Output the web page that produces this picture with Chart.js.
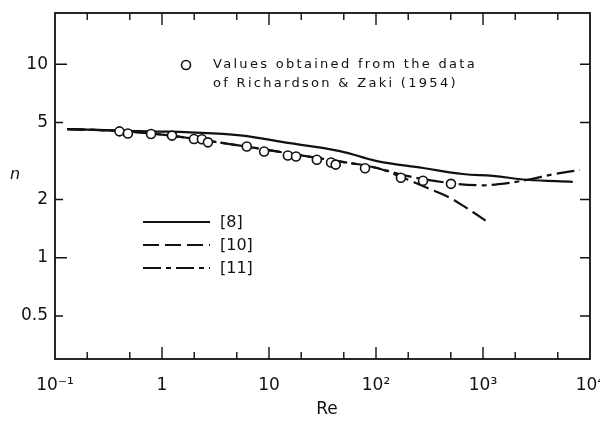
<!DOCTYPE html>
<html>
<head>
<meta charset="utf-8">
<script src="https://cdn.jsdelivr.net/npm/chart.js@4/dist/chart.umd.min.js"></script>
<style>
  html, body { margin: 0; padding: 0; background: #fff; }
  #wrap { width: 600px; height: 422px; }
</style>
</head>
<body>
<div id="wrap"><canvas id="chart"></canvas></div>
<script>
// values
const reCircles = [0.40, 0.48, 0.79, 1.24, 1.99, 2.36, 2.69, 6.2, 9.0, 15, 17.9, 28, 38, 42, 79, 171, 275, 502];
const nCircles = [4.50, 4.39, 4.36, 4.28, 4.11, 4.10, 3.95, 3.76, 3.54, 3.38, 3.34, 3.21, 3.11, 3.03, 2.90, 2.59, 2.50, 2.41];

// curve [8]
const re8 = [0.13, 0.3, 0.77, 1.83, 5.4, 15.7, 46, 102, 275, 650, 1240, 2575, 6900];
const n8 = [4.62, 4.57, 4.50, 4.45, 4.29, 3.91, 3.56, 3.16, 2.91, 2.71, 2.65, 2.53, 2.47];

// curve [10]
const re10 = [0.13, 0.4, 1, 2, 5, 10, 20, 50, 100, 171, 300, 460, 650, 1110];
const n10 = [4.62, 4.52, 4.33, 4.12, 3.82, 3.60, 3.38, 3.12, 2.92, 2.62, 2.30, 2.08, 1.86, 1.53];

// curve [11]
const re11 = [0.13, 0.4, 1, 2, 5, 10, 20, 50, 100, 200, 500, 950, 1500, 2600, 4700, 8000];
const n11 = [4.62, 4.52, 4.33, 4.12, 3.82, 3.60, 3.38, 3.12, 2.92, 2.64, 2.43, 2.37, 2.41, 2.53, 2.71, 2.84];

// axes
const xTicks = [0.1, 1, 10, 100, 1000, 10000];
const xTickLabels = ['10\u207B\u00B9', '1', '10', '10\u00B2', '10\u00B3', '10\u2074'];
const xMarks = [0.2, 0.5, 1, 2, 5, 10, 20, 50, 100, 200, 500, 1000, 2000, 5000];
const yTicks = [0.5, 1, 2, 5, 10];
const yTickLabels = ['0.5', '1', '2', '5', '10'];

const legendNames = ['[8]', '[10]', '[11]'];
const noteLines = ['Values obtained from the data', 'of Richardson & Zaki (1954)'];

const INK = '#111';

function pairs(xs, ys) {
  return xs.map((x, i) => ({ x: x, y: ys[i] }));
}

function isDecade(v) {
  const l = Math.log10(v);
  return Math.abs(l - Math.round(l)) < 1e-9;
}

// scales keep no extra padding for their end labels
function noScalePadding(s) {
  s.paddingLeft = 0;
  s.paddingRight = 0;
  s.paddingTop = 0;
  s.paddingBottom = 0;
}

// frame, inward ticks, legend and notes
const decorPlugin = {
  id: 'decor',
  afterDatasetsDraw(chart) {
    const ctx = chart.ctx;
    const a = chart.chartArea;
    const xs = chart.scales.x;
    const ys = chart.scales.y;
    ctx.save();
    ctx.strokeStyle = INK;
    ctx.lineWidth = 1.8;
    ctx.strokeRect(a.left, a.top, a.right - a.left, a.bottom - a.top);

    ctx.lineWidth = 1.4;
    ctx.beginPath();
    xMarks.forEach(v => {
      const px = xs.getPixelForValue(v);
      const len = isDecade(v) ? 12 : 7;
      ctx.moveTo(px, a.bottom); ctx.lineTo(px, a.bottom - len);
      ctx.moveTo(px, a.top); ctx.lineTo(px, a.top + len);
    });
    yTicks.forEach(v => {
      const py = ys.getPixelForValue(v);
      const len = isDecade(v) ? 12 : 8;
      ctx.moveTo(a.left, py); ctx.lineTo(a.left + len, py);
      ctx.moveTo(a.right, py); ctx.lineTo(a.right - 10, py);
    });
    ctx.stroke();

    // line legend
    const dashes = [[], [16, 6], [18, 5, 5, 5]];
    ctx.lineWidth = 2;
    legendNames.forEach((name, i) => {
      const y = 222 + i * 23;
      ctx.setLineDash(dashes[i]);
      ctx.beginPath();
      ctx.moveTo(143, y); ctx.lineTo(210, y);
      ctx.stroke();
      ctx.setLineDash([]);
      ctx.fillStyle = INK;
      ctx.font = '16px "DejaVu Sans"';
      ctx.textBaseline = 'middle';
      ctx.textAlign = 'left';
      ctx.fillText(name, 220, y + 1);
    });

    // circle note
    ctx.lineWidth = 1.6;
    ctx.fillStyle = '#fff';
    ctx.beginPath();
    ctx.arc(186, 65, 4.5, 0, Math.PI * 2);
    ctx.fill();
    ctx.stroke();
    ctx.fillStyle = INK;
    ctx.font = '13px "DejaVu Sans"';
    ctx.letterSpacing = '2.3px';
    ctx.textBaseline = 'middle';
    noteLines.forEach((t, i) => ctx.fillText(t, 213, 65 + i * 19));
    ctx.letterSpacing = '0px';

    // axis titles
    ctx.font = 'italic 16px "DejaVu Sans"';
    ctx.textAlign = 'center';
    ctx.fillText('n', 15, 175);
    ctx.font = '17px "DejaVu Sans"';
    ctx.fillText('Re', 327, 410);
    ctx.restore();
  }
};

const lineStyle = {
  borderColor: INK,
  borderWidth: 2.2,
  pointRadius: 0,
  tension: 0.4,
  fill: false
};

new Chart(document.getElementById('chart'), {
  type: 'line',
  data: {
    datasets: [
      {
        label: 'Richardson & Zaki (1954)',
        data: pairs(reCircles, nCircles),
        showLine: false,
        pointRadius: 4.5,
        pointBackgroundColor: '#fff',
        pointBorderColor: INK,
        pointBorderWidth: 1.6
      },
      Object.assign({ label: '[8]', data: pairs(re8, n8) }, lineStyle),
      Object.assign({ label: '[10]', data: pairs(re10, n10), borderDash: [16, 6] }, lineStyle),
      Object.assign({ label: '[11]', data: pairs(re11, n11), borderDash: [18, 5, 5, 5] }, lineStyle)
    ]
  },
  options: {
    responsive: true,
    maintainAspectRatio: false,
    animation: false,
    layout: { autoPadding: false, padding: { top: 13, right: 10, left: 0, bottom: 0 } },
    plugins: { legend: { display: false }, tooltip: { enabled: false } },
    scales: {
      x: {
        type: 'logarithmic',
        min: 0.1,
        max: 10000,
        afterBuildTicks: s => { s.ticks = xTicks.map(v => ({ value: v })); },
        afterFit: s => { s.height = 63; noScalePadding(s); },
        grid: { display: false, drawTicks: false },
        border: { display: false },
        ticks: {
          autoSkip: false,
          maxRotation: 0,
          padding: 16,
          color: INK,
          font: { family: 'DejaVu Sans', size: 17 },
          callback: (v, i) => xTickLabels[i]
        }
      },
      y: {
        type: 'logarithmic',
        min: 0.316,
        max: 18.4,
        afterBuildTicks: s => { s.ticks = yTicks.map(v => ({ value: v })); },
        afterFit: s => { s.width = 55; noScalePadding(s); },
        grid: { display: false, drawTicks: false },
        border: { display: false },
        ticks: {
          padding: 7,
          color: INK,
          font: { family: 'DejaVu Sans', size: 17 },
          callback: (v, i) => yTickLabels[i]
        }
      }
    }
  },
  plugins: [decorPlugin]
});
</script>
</body>
</html>
